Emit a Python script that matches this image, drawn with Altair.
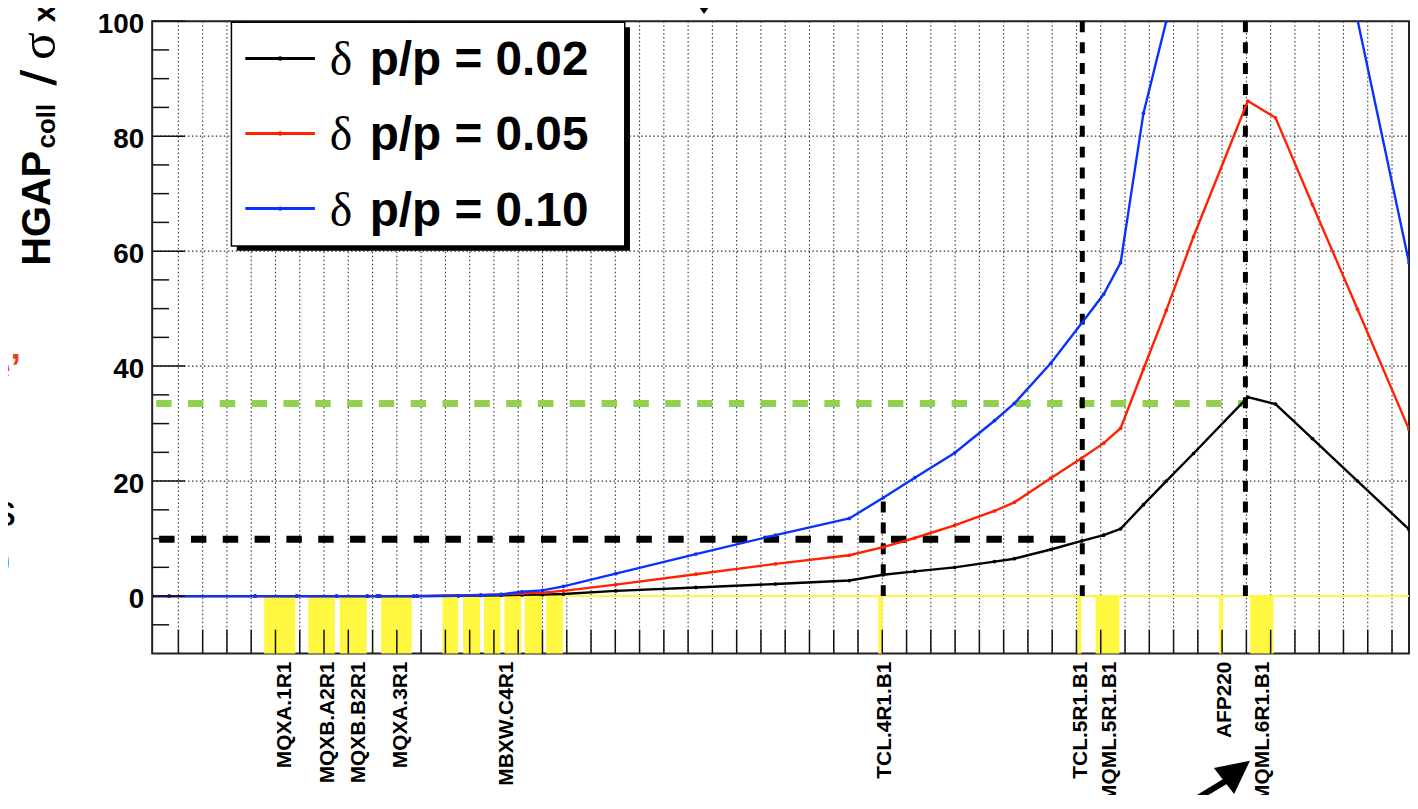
import altair as alt
import pandas as pd

# ---------------- data (positions along the beam line, metres) ----------------
s_pos = [0.0, 3.5, 21.2, 29.8, 38.0, 44.3, 46.4, 46.9, 53.9, 54.6,
         63.1, 67.7, 71.9, 76.2, 80.4, 84.7,
         95.5, 112.0, 128.4, 143.6,
         150.6, 157.1, 165.3, 173.5, 177.6, 185.1, 191.5, 196.0, 199.5,
         204.2, 208.9, 214.5,
         225.7, 231.4, 239.0, 248.3, 258.9]
black = [0, 0, 0, 0, 0, 0, 0, 0, 0, 0,
         0.05, 0.1, 0.15, 0.2, 0.25, 0.35,
         0.9, 1.5, 2.1, 2.7,
         3.7, 4.3, 5.0, 6.0, 6.5, 8.1, 9.6, 10.6, 11.7,
         15.9, 20.0, 24.8,
         34.6, 33.4, 27.4, 20.0, 11.6]
red = [0, 0, 0, 0, 0, 0, 0, 0, 0, 0,
       0.1, 0.2, 0.3, 0.45, 0.6, 0.9,
       2.0, 3.8, 5.6, 7.1,
       8.5, 10.1, 12.3, 14.8, 16.3, 20.5, 24.0, 26.6, 29.2,
       39.5, 49.7, 62.5,
       86.1, 83.2, 68.1, 49.9, 29.0]
blue = [0, 0, 0, 0, 0, 0, 0, 0, 0, 0,
        0.05, 0.15, 0.3, 0.75, 1.0, 1.7,
        3.9, 7.3, 10.6, 13.5,
        17.1, 20.6, 24.9, 30.5, 33.5, 40.5, 47.5, 52.5, 58.0,
        84.0, 100.0, 124.0,
        173.0, 167.0, 136.8, 100.2, 58.0]
series_names = ["0.02", "0.05", "0.10"]
series_colors = ["#000000", "#ff2200", "#0a32ff"]

elem_start = [23.08, 32.16, 38.65, 47.17, 59.81, 64.05, 68.35, 72.57, 76.75, 81.18,
              149.59, 190.56, 194.33, 219.79, 226.20]
elem_end = [29.50, 37.63, 44.18, 53.46, 63.03, 67.53, 71.75, 75.99, 80.29, 84.60,
            150.49, 191.38, 199.24, 220.61, 230.99]

label_names = ["MQXA.1R1", "MQXB.A2R1", "MQXB.B2R1", "MQXA.3R1", "MBXW.C4R1",
               "TCL.4R1.B1", "TCL.5R1.B1", "MQML.5R1.B1", "AFP220", "MQML.6R1.B1"]
label_pos = [27.4, 36.2, 42.7, 51.3, 73.0, 150.9, 191.3, 197.3, 221.0, 228.9]

h_levels = [9.9, 33.5]
h_ends = [191.6, 225.2]
v_pos = [150.6, 191.6, 225.2]
v_top = [17.3, 100, 100]

y_major = [0, 20, 40, 60, 80, 100]
y_minor = [-5, 5, 10, 15, 25, 30, 35, 45, 50, 55, 65, 70, 75, 85, 90, 95]
x_ticks = [5.4 + 5 * k for k in range(51)]

# ---------------- geometry ----------------
W, H = 1264, 636
X_MIN, X_MAX, Y_MIN, Y_MAX = 0, 258.9, -10, 100
xs = alt.Scale(domain=[X_MIN, X_MAX], nice=False, zero=False)
ys = alt.Scale(domain=[Y_MIN, Y_MAX], nice=False, zero=False)
SANS = "Liberation Sans"
SERIF = "Liberation Serif"
YEL = "#fff740"


def X(f):
    return alt.X(f, type="quantitative", scale=xs, axis=None)


def Y(f):
    return alt.Y(f, type="quantitative", scale=ys, axis=None)


layers = []

# grid
layers.append(alt.Chart(pd.DataFrame({"s": x_ticks})).mark_rule(
    color="#333", strokeWidth=1.1, strokeDash=[1.5, 2.5]).encode(
    x=X("s"), y=alt.value(0), y2=alt.value(H)))
layers.append(alt.Chart(pd.DataFrame({"v": y_major})).mark_rule(
    color="#333", strokeWidth=1.1, strokeDash=[1.5, 2.5]).encode(
    y=Y("v"), x=alt.value(0), x2=alt.value(W)))

# yellow elements
elem_df = pd.DataFrame({"a": elem_start, "b": elem_end})
elem_df["lo"] = Y_MIN
elem_df["hi"] = 0
layers.append(alt.Chart(elem_df).mark_rect(color=YEL).encode(
    x=X("a"), x2=alt.X2("b"), y=Y("lo"), y2=alt.Y2("hi")))
layers.append(alt.Chart(pd.DataFrame({"v": [0]})).mark_rule(
    color=YEL, strokeWidth=2).encode(x=alt.value(0), x2=alt.value(W), y=Y("v")))

# dashed reference lines
hdf = pd.DataFrame({"y": h_levels, "e": h_ends})
hdf["x0"] = X_MIN
layers.append(alt.Chart(hdf.iloc[[1]]).mark_rule(
    color="#92d050", strokeWidth=7, strokeDash=[15.5, 16.5], strokeDashOffset=28).encode(
    x=X("x0"), x2=alt.X2("e"), y=Y("y")))
layers.append(alt.Chart(hdf.iloc[[0]]).mark_rule(
    color="#000", strokeWidth=7, strokeDash=[15.5, 16.5], strokeDashOffset=25).encode(
    x=X("x0"), x2=alt.X2("e"), y=Y("y")))
vdf = pd.DataFrame({"s": v_pos, "t": v_top})
vdf["b"] = 0
layers.append(alt.Chart(vdf).mark_rule(
    color="#000", strokeWidth=5, strokeDash=[11, 10]).encode(
    x=X("s"), y=Y("b"), y2=alt.Y2("t")))

# curves
for name, col, vals in zip(series_names, series_colors, [black, red, blue]):
    df = pd.DataFrame({"s": s_pos, "v": vals})
    layers.append(alt.Chart(df).mark_line(color=col, strokeWidth=2.4, clip=True).encode(
        x=X("s"), y=Y("v")))
    layers.append(alt.Chart(df).mark_point(color=col, filled=True, size=14, opacity=1,
                                           clip=True).encode(x=X("s"), y=Y("v")))

# ticks (inside the frame)
layers.append(alt.Chart(pd.DataFrame({"s": x_ticks})).mark_rule(
    color="#111", strokeWidth=1.5).encode(x=X("s"), y=alt.value(H), y2=alt.value(H - 24)))
layers.append(alt.Chart(pd.DataFrame({"v": y_major})).mark_rule(
    color="#111", strokeWidth=1.5).encode(y=Y("v"), x=alt.value(0), x2=alt.value(33)))
layers.append(alt.Chart(pd.DataFrame({"v": y_minor})).mark_rule(
    color="#111", strokeWidth=1.5).encode(y=Y("v"), x=alt.value(0), x2=alt.value(17)))

# y tick labels
layers.append(alt.Chart(pd.DataFrame({"v": y_major, "t": [str(v) for v in y_major]})).mark_text(
    align="right", baseline="middle", dy=4, font=SANS, fontWeight="bold", fontSize=28,
    color="#000").encode(x=alt.value(-8), y=Y("v"), text="t:N"))

# element labels
layers.append(alt.Chart(pd.DataFrame({"s": label_pos, "t": label_names})).mark_text(
    angle=270, align="right", baseline="middle", font=SANS, fontWeight="bold", fontSize=21,
    color="#000").encode(x=X("s"), y=alt.value(644), text="t:N"))

# legend
legend_box = pd.DataFrame({"a": [0]})
layers.append(alt.Chart(legend_box).mark_rect(color="#000").encode(
    x=alt.value(85), x2=alt.value(480.5), y=alt.value(6), y2=alt.value(231)))
layers.append(alt.Chart(legend_box).mark_rect(fill="#fff", stroke="#000", strokeWidth=1.5).encode(
    x=alt.value(79.7), x2=alt.value(475.3), y=alt.value(1), y2=alt.value(226)))
for i, (name, col) in enumerate(zip(series_names, series_colors)):
    ly = 37.5 + 75.5 * i
    layers.append(alt.Chart(legend_box).mark_rule(color=col, strokeWidth=3).encode(
        x=alt.value(93.7), x2=alt.value(163.7), y=alt.value(ly)))
    layers.append(alt.Chart(legend_box).mark_point(color=col, filled=True, size=20, opacity=1).encode(
        x=alt.value(128.7), y=alt.value(ly)))
    layers.append(alt.Chart(legend_box).mark_text(
        text="δ", align="left", baseline="alphabetic", font=SERIF, fontSize=48,
        color="#000").encode(x=alt.value(178.7), y=alt.value(ly + 17)))
    layers.append(alt.Chart(legend_box).mark_text(
        text="p/p = " + name, align="left", baseline="alphabetic", font=SANS,
        fontWeight="bold", fontSize=48, color="#000").encode(
        x=alt.value(218.7), y=alt.value(ly + 17)))


# y axis title pieces (rotated)
def ytxt(t, x, y, size, font=SANS, weight="bold", align="left"):
    return alt.Chart(legend_box).mark_text(
        text=t, angle=270, align=align, baseline="alphabetic", font=font,
        fontWeight=weight, fontSize=size, color="#000").encode(
        x=alt.value(x), y=alt.value(y))


layers.append(ytxt("HGAP", -103, 246, 40))
layers.append(ytxt("coll", -98, 128, 26))
layers.append(ytxt("/", -100, 57, 44, font="DejaVu Sans", align="center"))
layers.append(ytxt("σ", -98, 39, 52, font=SERIF, weight="normal"))
layers.append(ytxt("x", -98, 1, 32))

# slide fragments / arrows outside the frame
layers.append(alt.Chart(legend_box).mark_text(
    text="e’", align="right", baseline="alphabetic", font=SANS, fontWeight="bold",
    fontSize=38, color="#e8401c").encode(x=alt.value(-132), y=alt.value(361)))
layers.append(alt.Chart(legend_box).mark_text(
    text="s", align="right", baseline="alphabetic", font=SANS, fontSize=44,
    color="#000").encode(x=alt.value(-137), y=alt.value(508)))
layers.append(alt.Chart(legend_box).mark_text(
    text=")", align="right", baseline="alphabetic", font=SANS, fontSize=44,
    color="#000").encode(x=alt.value(-142), y=alt.value(556)))
layers.append(alt.Chart(legend_box).mark_point(
    shape="M-1,-0.7L1,-0.7L0,0.7Z", size=484, filled=True, color="#000", opacity=1).encode(
    x=alt.value(555), y=alt.value(-15)))
layers.append(alt.Chart(legend_box).mark_rule(color="#000", strokeWidth=6).encode(
    x=alt.value(1037), y=alt.value(790), x2=alt.value(1080), y2=alt.value(764)))
layers.append(alt.Chart(legend_box).mark_point(
    shape="M0,-1L1,1L-1,1Z", size=1100, angle=52, filled=True, color="#000", opacity=1).encode(
    x=alt.value(1091), y=alt.value(754)))

chart = alt.layer(*layers).properties(
    width=W, height=H,
    padding={"left": 145, "top": 11, "right": 1, "bottom": 140},
    autosize=alt.AutoSizeParams(type="none"),
    background="white",
).configure_view(stroke="#222", strokeWidth=2)

chart.save("out.html", embed_options={"renderer": "svg", "actions": False})
